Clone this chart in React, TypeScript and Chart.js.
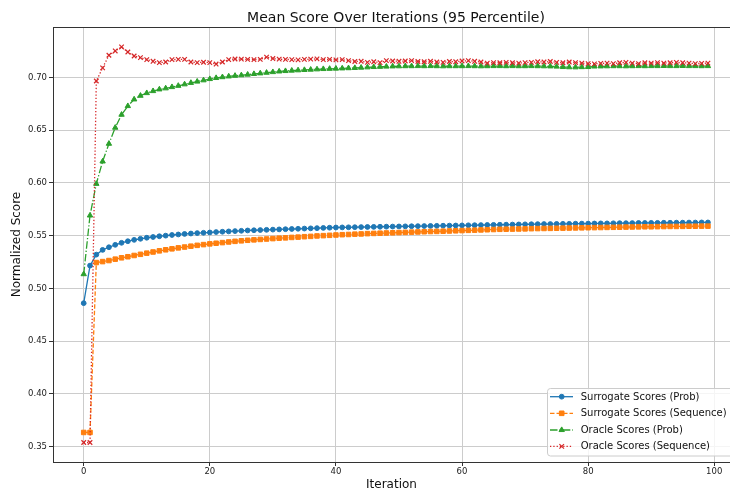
import React, { useEffect, useRef } from 'react';
import { Chart, registerables } from 'chart.js';

Chart.register(...registerables);

const TITLE = 'Mean Score Over Iterations (95 Percentile)';
const X_LABEL = 'Iteration';
const Y_LABEL = 'Normalized Score';

const iterations = Array.from({ length: 100 }, (_, i) => i);
const xTicks = [0, 20, 40, 60, 80, 100];
const yTicks = [0.35, 0.4, 0.45, 0.5, 0.55, 0.6, 0.65, 0.7];

const seriesLabels = [
  'Surrogate Scores (Prob)',
  'Surrogate Scores (Sequence)',
  'Oracle Scores (Prob)',
  'Oracle Scores (Sequence)',
];

const surrogateProb = [
  0.486, 0.5216, 0.532, 0.5365, 0.539, 0.5413, 0.5432, 0.5447, 0.546, 0.547,
  0.548, 0.5487, 0.5494, 0.55, 0.5506, 0.5511, 0.5516, 0.552, 0.5524, 0.5527,
  0.553, 0.5534, 0.5537, 0.554, 0.5543, 0.5546, 0.5549, 0.5551, 0.5553, 0.5555,
  0.5557, 0.5559, 0.5561, 0.5563, 0.5565, 0.5567, 0.5569, 0.5571, 0.5573, 0.5575,
  0.5577, 0.5578, 0.5579, 0.558, 0.5581, 0.5582, 0.5583, 0.5584, 0.5585, 0.5586,
  0.5587, 0.5588, 0.5589, 0.559, 0.5591, 0.5592, 0.5593, 0.5594, 0.5595, 0.5596,
  0.5597, 0.5598, 0.5599, 0.56, 0.5601, 0.5602, 0.5603, 0.5604, 0.5605, 0.5606,
  0.5607, 0.5608, 0.5609, 0.561, 0.561, 0.5611, 0.5612, 0.5612, 0.5613, 0.5614,
  0.5614, 0.5615, 0.5616, 0.5616, 0.5617, 0.5618, 0.5618, 0.5619, 0.562, 0.562,
  0.5621, 0.5621, 0.5622, 0.5622, 0.5623, 0.5623, 0.5624, 0.5624, 0.5625, 0.5625,
];

const surrogateSeq = [
  0.3635, 0.3635, 0.5245, 0.5254, 0.5264, 0.5277, 0.529, 0.53, 0.5312, 0.5323,
  0.5334, 0.5345, 0.5356, 0.5366, 0.5375, 0.5384, 0.5392, 0.54, 0.5408, 0.5415,
  0.5422, 0.5428, 0.5434, 0.544, 0.5446, 0.5451, 0.5456, 0.546, 0.5464, 0.5468,
  0.5472, 0.5476, 0.5479, 0.5483, 0.5486, 0.549, 0.5493, 0.5497, 0.55, 0.5503,
  0.5506, 0.5509, 0.5511, 0.5514, 0.5516, 0.5519, 0.5521, 0.5523, 0.5525, 0.5527,
  0.5529, 0.5531, 0.5533, 0.5535, 0.5537, 0.5539, 0.554, 0.5542, 0.5544, 0.5546,
  0.5548, 0.555, 0.5552, 0.5554, 0.5556, 0.5558, 0.556, 0.5561, 0.5562, 0.5563,
  0.5564, 0.5566, 0.5567, 0.5568, 0.5569, 0.557, 0.5571, 0.5572, 0.5573, 0.5574,
  0.5575, 0.5576, 0.5577, 0.5578, 0.5579, 0.558, 0.5581, 0.5582, 0.5583, 0.5584,
  0.5584, 0.5585, 0.5586, 0.5587, 0.5587, 0.5588, 0.5589, 0.5589, 0.559, 0.559,
];

const oracleProb = [
  0.5135, 0.5691, 0.5991, 0.6203, 0.6371, 0.6523, 0.6646, 0.6728, 0.6791, 0.6826,
  0.6851, 0.687, 0.6886, 0.6896, 0.6908, 0.692, 0.6934, 0.6948, 0.696, 0.6972,
  0.6984, 0.6994, 0.7002, 0.7009, 0.7015, 0.702, 0.7026, 0.7032, 0.7038, 0.7044,
  0.705, 0.7056, 0.706, 0.7064, 0.7067, 0.707, 0.7073, 0.7076, 0.7079, 0.7081,
  0.7083, 0.7085, 0.7087, 0.7089, 0.7092, 0.7095, 0.7098, 0.71, 0.7102, 0.7104,
  0.7105, 0.7106, 0.7106, 0.7107, 0.7106, 0.7107, 0.7106, 0.7105, 0.7106, 0.7106,
  0.7106, 0.7107, 0.7106, 0.7105, 0.7106, 0.7107, 0.7107, 0.7106, 0.7107, 0.7106,
  0.7106, 0.7107, 0.7106, 0.7105, 0.7104, 0.7102, 0.7098, 0.7096, 0.7095, 0.7097,
  0.7098, 0.7103, 0.7104, 0.7105, 0.7106, 0.7106, 0.7105, 0.7106, 0.7107, 0.7106,
  0.7107, 0.7107, 0.7108, 0.7107, 0.7107, 0.7108, 0.7107, 0.7107, 0.7106, 0.7107,
];

const oracleSeq = [
  0.354, 0.354, 0.6965, 0.709, 0.7209, 0.725, 0.7288, 0.724, 0.7202, 0.7187,
  0.7168, 0.7152, 0.7139, 0.7145, 0.7168, 0.717, 0.717, 0.7145, 0.714, 0.7143,
  0.714, 0.7126, 0.7145, 0.7168, 0.7174, 0.7172, 0.717, 0.7168, 0.717, 0.7192,
  0.7178, 0.7172, 0.717, 0.7168, 0.7165, 0.717, 0.7172, 0.7175, 0.7168, 0.717,
  0.7165, 0.7168, 0.7158, 0.715, 0.7152, 0.7142, 0.7148, 0.714, 0.7158, 0.7155,
  0.7152, 0.7155, 0.7158, 0.715, 0.7148, 0.7152, 0.7145, 0.7142, 0.715, 0.7148,
  0.7155, 0.7158, 0.7152, 0.7145, 0.7135, 0.714, 0.7138, 0.7142, 0.7138, 0.7135,
  0.714, 0.7142, 0.7148, 0.7145, 0.715, 0.7142, 0.7138, 0.7145, 0.714, 0.7135,
  0.713, 0.7128, 0.7132, 0.7135, 0.713, 0.7138, 0.7142, 0.7135, 0.713, 0.7138,
  0.7135, 0.714, 0.7135, 0.7138, 0.7142, 0.7138, 0.7135, 0.713, 0.7132, 0.7135,
];

const FONT = '"DejaVu Sans", "Liberation Sans", sans-serif';
const COLORS = ['#1f77b4', '#ff7f0e', '#2ca02c', '#d62728'];
const DASHES: number[][] = [[], [4.5, 2], [7.5, 2, 1.3, 2], [1.3, 2]];
const STYLES = ['circle', 'rect', 'triangle', 'crossRot'];
const RADII = [2.4, 3.2, 3.1, 3.2];
const ALL_SERIES = [surrogateProb, surrogateSeq, oracleProb, oracleSeq];

function drawMarker(ctx: CanvasRenderingContext2D, style: string, x: number, y: number, color: string) {
  ctx.save();
  ctx.fillStyle = color;
  ctx.strokeStyle = color;
  ctx.lineWidth = 1;
  ctx.setLineDash([]);
  ctx.beginPath();
  if (style === 'circle') {
    ctx.arc(x, y, 2.4, 0, Math.PI * 2);
    ctx.fill();
    ctx.stroke();
  } else if (style === 'rect') {
    ctx.rect(x - 2.3, y - 2.3, 4.6, 4.6);
    ctx.fill();
    ctx.stroke();
  } else if (style === 'triangle') {
    const r = 3.1;
    ctx.moveTo(x, y - r);
    ctx.lineTo(x + r * Math.sin((2 * Math.PI) / 3), y - r * Math.cos((2 * Math.PI) / 3));
    ctx.lineTo(x + r * Math.sin((4 * Math.PI) / 3), y - r * Math.cos((4 * Math.PI) / 3));
    ctx.closePath();
    ctx.fill();
    ctx.stroke();
  } else {
    const d = 2.3;
    ctx.lineWidth = 1.2;
    ctx.moveTo(x - d, y - d);
    ctx.lineTo(x + d, y + d);
    ctx.moveTo(x - d, y + d);
    ctx.lineTo(x + d, y - d);
    ctx.stroke();
  }
  ctx.restore();
}

const overlayPlugin = {
  id: 'overlay',
  afterDraw(chart: any) {
    const { ctx, chartArea } = chart;
    ctx.save();
    // top spine
    ctx.strokeStyle = '#333';
    ctx.lineWidth = 1;
    ctx.beginPath();
    ctx.moveTo(chartArea.left, Math.round(chartArea.top) + 0.5);
    ctx.lineTo(chartArea.right, Math.round(chartArea.top) + 0.5);
    ctx.stroke();

    // title
    ctx.fillStyle = '#111';
    ctx.font = `14px ${FONT}`;
    ctx.textAlign = 'center';
    ctx.textBaseline = 'alphabetic';
    ctx.fillText(TITLE, 396, 22);

    // legend
    const bx = 547.5, by = 388.5, bw = 200, bh = 67.5, rr = 3;
    ctx.beginPath();
    ctx.moveTo(bx + rr, by);
    ctx.lineTo(bx + bw - rr, by);
    ctx.quadraticCurveTo(bx + bw, by, bx + bw, by + rr);
    ctx.lineTo(bx + bw, by + bh - rr);
    ctx.quadraticCurveTo(bx + bw, by + bh, bx + bw - rr, by + bh);
    ctx.lineTo(bx + rr, by + bh);
    ctx.quadraticCurveTo(bx, by + bh, bx, by + bh - rr);
    ctx.lineTo(bx, by + rr);
    ctx.quadraticCurveTo(bx, by, bx + rr, by);
    ctx.closePath();
    ctx.fillStyle = 'rgba(255,255,255,0.8)';
    ctx.fill();
    ctx.strokeStyle = '#cccccc';
    ctx.lineWidth = 1;
    ctx.stroke();

    const rows = [396.7, 413.3, 430, 446.4];
    seriesLabels.forEach((label, i) => {
      const y = rows[i];
      ctx.save();
      ctx.strokeStyle = COLORS[i];
      ctx.lineWidth = 1.3;
      ctx.setLineDash(DASHES[i]);
      ctx.beginPath();
      ctx.moveTo(550, y);
      ctx.lineTo(573, y);
      ctx.stroke();
      ctx.restore();
      drawMarker(ctx, STYLES[i], 561.7, y, COLORS[i]);
      ctx.fillStyle = '#111';
      ctx.font = `10px ${FONT}`;
      ctx.textAlign = 'left';
      ctx.textBaseline = 'middle';
      ctx.fillText(label, 580.7, y + 0.5);
    });
    ctx.restore();
  },
};

export default function App() {
  const ref = useRef<HTMLCanvasElement>(null);

  useEffect(() => {
    document.body.style.margin = '0';
    const datasets = ALL_SERIES.map((series, i) => ({
      label: seriesLabels[i],
      data: series.map((v, k) => ({ x: iterations[k], y: v })),
      borderColor: COLORS[i],
      backgroundColor: COLORS[i],
      borderWidth: 1.3,
      borderDash: DASHES[i],
      pointStyle: STYLES[i] as any,
      pointRadius: RADII[i],
      pointBorderWidth: i === 3 ? 1.2 : 1,
      pointBorderColor: COLORS[i],
      pointBackgroundColor: COLORS[i],
      tension: 0,
      fill: false,
      order: 4 - i,
    }));

    const chart = new Chart(ref.current as HTMLCanvasElement, {
      type: 'line',
      data: { datasets },
      plugins: [overlayPlugin],
      options: {
        animation: false,
        responsive: false,
        devicePixelRatio: 1,
        events: [],
        layout: { autoPadding: false, padding: { top: 27, left: 0, right: 0, bottom: 0 } },
        plugins: {
          legend: { display: false },
          title: { display: false },
          tooltip: { enabled: false },
        },
        scales: {
          x: {
            type: 'linear',
            min: -4.87,
            max: 102.5,
            afterBuildTicks: (axis: any) => {
              axis.ticks = xTicks.map((v) => ({ value: v }));
            },
            afterFit: (s: any) => {
              s.height = 31;
              s.paddingLeft = 0;
              s.paddingRight = 0;
            },
            grid: { color: '#cccccc', lineWidth: 1, drawTicks: true, tickLength: 4, tickColor: '#333' },
            border: { display: true, color: '#333', width: 1 },
            ticks: {
              font: { size: 8.5, family: FONT },
              color: '#222',
              padding: 1,
              maxRotation: 0,
              autoSkip: false,
              callback: (v: any) => String(v),
            },
            title: {
              display: true,
              text: X_LABEL,
              font: { size: 12, family: FONT },
              color: '#111',
              padding: { top: 0, bottom: 1 },
            },
          },
          y: {
            type: 'linear',
            min: 0.3355,
            max: 0.7477,
            afterBuildTicks: (axis: any) => {
              axis.ticks = yTicks.map((v) => ({ value: v }));
            },
            afterFit: (s: any) => {
              s.width = 53;
              s.paddingTop = 0;
              s.paddingBottom = 0;
            },
            grid: { color: '#cccccc', lineWidth: 1, drawTicks: true, tickLength: 4, tickColor: '#333' },
            border: { display: true, color: '#333', width: 1 },
            ticks: {
              font: { size: 8.5, family: FONT },
              color: '#222',
              padding: 2,
              autoSkip: false,
              callback: (v: any) => Number(v).toFixed(2),
            },
            title: {
              display: true,
              text: Y_LABEL,
              font: { size: 12, family: FONT },
              color: '#111',
              padding: { top: 10, bottom: 0 },
            },
          },
        },
      },
    });
    return () => chart.destroy();
  }, []);

  return (
    <div style={{ position: 'absolute', left: 0, top: 0 }}>
      <canvas ref={ref} width={730} height={493} style={{ display: 'block', width: 730, height: 493 }} />
    </div>
  );
}
